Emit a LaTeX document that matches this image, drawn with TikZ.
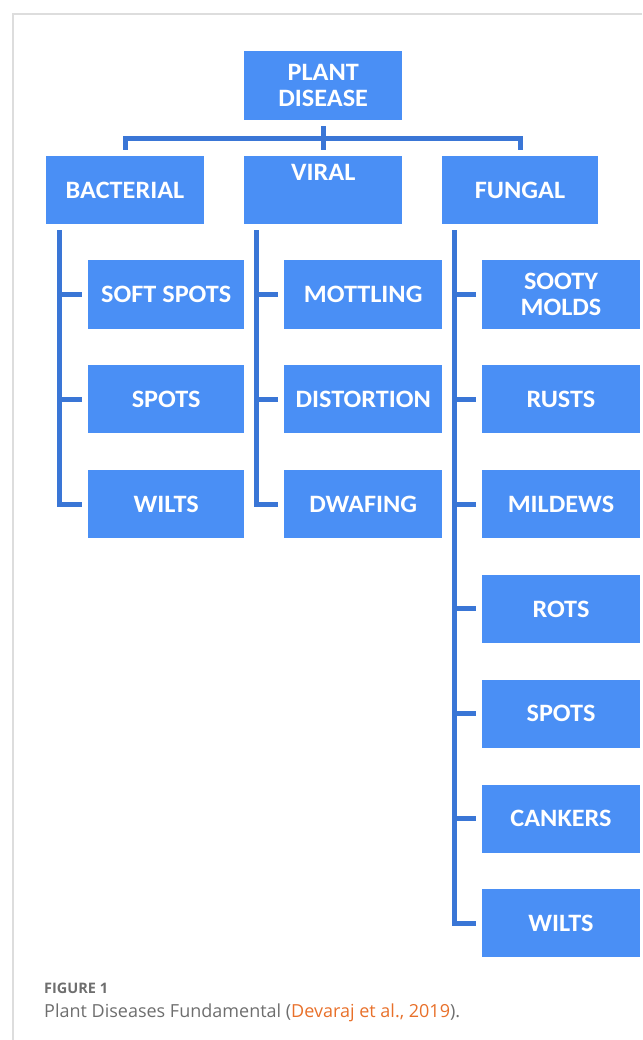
\documentclass[tikz,border=0pt]{standalone}
\usepackage{fontspec}
\setmainfont{Open Sans}
\newfontfamily\boxfont[FakeStretch=1.05]{Carlito}
\usetikzlibrary{positioning,calc}
\definecolor{boxblue}{RGB}{74,143,245}
\definecolor{lineblue}{RGB}{58,118,214}
\definecolor{capgray}{RGB}{110,110,110}
\definecolor{citeorange}{RGB}{232,112,42}
\definecolor{framegray}{RGB}{221,221,221}
\tikzset{
  dbox/.style={fill=boxblue, text=white, inner sep=0pt, minimum width=157pt,
    minimum height=68pt, align=center, font=\boxfont\bfseries\fontsize{25}{26}\selectfont},
  link/.style={draw=lineblue, line width=5pt},
}

\begin{document}
\begin{tikzpicture}[x=1pt,y=-1pt]
\useasboundingbox (0,0) rectangle (642,1040);
\draw[framegray, line width=1.5pt] (642,14) -- (13,14) -- (13,1040);

% top level
\node[dbox, minimum width=157.5pt, minimum height=69pt] (plant) at (323.2,85.5) {PLANT\\DISEASE};
\node[dbox, minimum width=158pt] (bac) at (125,190) {BACTERIAL};
\node[dbox, minimum width=157.5pt] (vir) at (323.2,190) {VIRAL\\[10pt]\mbox{}};
\node[dbox, minimum width=156pt] (fun) at (520,190) {FUNGAL};

\draw[link] ($(bac.north)+(0,-6)$) -- ++(0,-11) -| ($(fun.north)+(0,-6)$);
\draw[link] ($(plant.south)+(0,6)$) -- ($(vir.north)+(0,-6)$);

% second level
\foreach \txt [count=\i] in {SOFT SPOTS,SPOTS,WILTS}
  \node[dbox, minimum width=156.5pt] (bac\i) at (166.2,{294.5+104.8*(\i-1)}) {\txt};
\foreach \txt [count=\i] in {MOTTLING,DISTORTION,DWAFING}
  \node[dbox, minimum width=157.5pt] (vir\i) at (363.2,{294.5+104.8*(\i-1)}) {\txt};
\foreach \txt [count=\i] in {{SOOTY\\MOLDS},RUSTS,MILDEWS,ROTS,SPOTS,CANKERS,WILTS}
  \node[dbox, minimum width=158pt] (fun\i) at (561,{294.5+104.8*(\i-1)}) {\txt};

\coordinate (bactop) at ($(bac.south west)+(13.5,6)$);
\coordinate (virtop) at ($(vir.south west)+(12.5,6)$);
\coordinate (funtop) at ($(fun.south west)+(13,6)$);

\draw[link] (bactop) |- ([xshift=-6pt]bac3.west);
\draw[link] (virtop) |- ([xshift=-6pt]vir3.west);
\draw[link] (funtop) |- ([xshift=-6pt]fun7.west);
\foreach \i in {1,2}{
  \draw[link] (bac\i.west -| bactop) -- ([xshift=-6pt]bac\i.west);
  \draw[link] (vir\i.west -| virtop) -- ([xshift=-6pt]vir\i.west);
}
\foreach \i in {1,...,6}
  \draw[link] (fun\i.west -| funtop) -- ([xshift=-6pt]fun\i.west);

% caption
\node[anchor=base west, inner sep=0pt, text=capgray, font=\bfseries\fontsize{14.5}{16}\selectfont] (fig) at (44,993.5) {FIGURE 1};
\node[anchor=base west, inner sep=0pt, text=capgray, font=\fontsize{18}{20}\selectfont] (cap) at (44,1017) {Plant Diseases Fundamental (\textcolor{citeorange}{Devaraj et al., 2019}).};
\end{tikzpicture}
\end{document}
